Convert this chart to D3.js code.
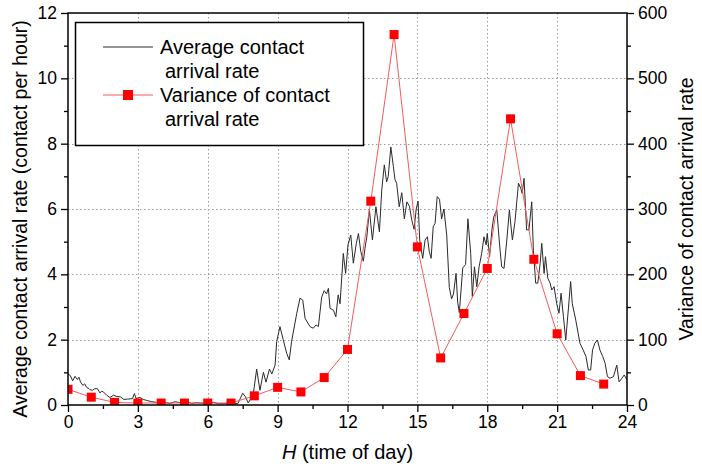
<!DOCTYPE html>
<html>
<head>
<meta charset="utf-8">
<script src="https://cdn.jsdelivr.net/npm/d3@7/dist/d3.min.js"></script>
<style>
  html, body { margin: 0; padding: 0; background: #fff; }
  svg { display: block; font-family: "Liberation Sans", Arial, sans-serif; }
</style>
</head>
<body>
<svg id="chart" width="702" height="468"></svg>
<script>
// Average contact arrival rate through the day (hour of day, contacts per hour)
const avgHours = [
  0.0, 0.1, 0.2, 0.3, 0.4, 0.47, 0.54, 0.64, 0.72, 0.8, 0.9, 0.94, 1.05, 1.15, 1.26, 1.37, 1.45, 1.52, 1.66, 1.8,
  1.95, 2.1, 2.25, 2.4, 2.55, 2.7, 2.77, 2.85, 2.92, 3.09, 3.23, 3.38, 3.6, 3.8, 3.95, 4.1, 4.25, 4.38, 4.6, 4.75,
  4.88, 5.1, 5.3, 5.5, 5.67, 5.9, 6.1, 6.25, 6.45, 6.7, 6.9, 7.1, 7.3, 7.5, 7.62, 7.74, 7.85, 7.96, 8.1, 8.24,
  8.39, 8.5, 8.65, 8.75, 8.89, 8.96, 9.1, 9.24, 9.39, 9.5, 9.6, 9.82, 9.96, 10.08, 10.18, 10.39, 10.53, 10.65, 10.75, 10.89,
  11.0, 11.1, 11.18, 11.25, 11.4, 11.5, 11.6, 11.68, 11.82, 11.92, 12.02, 12.14, 12.25, 12.38, 12.47, 12.57, 12.68, 12.75, 12.83, 12.94,
  13.07, 13.22, 13.37, 13.47, 13.58, 13.68, 13.75, 13.86, 13.97, 14.04, 14.11, 14.22, 14.33, 14.44, 14.55, 14.66, 14.76, 14.86, 14.95, 15.03,
  15.1, 15.23, 15.33, 15.43, 15.51, 15.59, 15.68, 15.76, 15.85, 15.95, 16.04, 16.14, 16.26, 16.37, 16.47, 16.55, 16.66, 16.73, 16.8, 16.95,
  17.07, 17.17, 17.29, 17.36, 17.45, 17.55, 17.65, 17.76, 17.86, 17.95, 18.0, 18.1, 18.2, 18.28, 18.41, 18.53, 18.62, 18.72, 18.84, 18.95,
  19.08, 19.19, 19.34, 19.44, 19.5, 19.58, 19.69, 19.79, 19.91, 19.98, 20.08, 20.17, 20.27, 20.34, 20.44, 20.5, 20.6, 20.7, 20.77, 20.87,
  20.98, 21.08, 21.17, 21.27, 21.37, 21.49, 21.58, 21.65, 21.8, 21.98, 22.12, 22.24, 22.34, 22.44, 22.52, 22.62, 22.73, 22.84, 22.96, 23.06,
  23.16, 23.27, 23.42, 23.56, 23.66, 23.78, 23.88, 24.0
];
const avgRate = [
  0.95, 0.9, 0.74, 0.88, 0.78, 0.85, 0.7, 0.6, 0.65, 0.54, 0.5, 0.47, 0.45, 0.5, 0.5, 0.37, 0.42, 0.4, 0.3, 0.23,
  0.3, 0.26, 0.25, 0.17, 0.18, 0.19, 0.2, 0.35, 0.2, 0.23, 0.17, 0.14, 0.1, 0.08, 0.07, 0.1, 0.06, 0.05, 0.1, 0.08,
  0.06, 0.1, 0.05, 0.07, 0.06, 0.05, 0.07, 0.08, 0.04, 0.04, 0.07, 0.04, 0.05, 0.36, 0.25, 0.06, 0.2, 0.36, 1.1, 0.45,
  1.0, 0.7, 1.1, 0.95, 1.22, 1.94, 2.4, 2.0, 1.58, 1.38, 1.95, 2.8, 3.27, 3.21, 2.65, 2.4, 2.35, 2.45, 2.4, 3.3,
  3.5, 3.4, 3.57, 2.96, 2.9, 2.7, 3.37, 3.1, 4.64, 4.03, 4.9, 5.2, 4.34, 4.95, 5.25, 4.7, 4.4, 4.8, 5.15, 5.97,
  5.05, 6.07, 5.3, 6.58, 7.35, 6.83, 7.0, 7.9, 7.3, 6.9, 6.79, 6.07, 6.5, 5.7, 6.22, 6.08, 5.66, 5.38, 6.0, 6.24,
  5.05, 4.49, 5.05, 5.15, 4.7, 4.49, 5.46, 5.56, 6.38, 6.3, 5.7, 6.0, 5.2, 3.6, 3.25, 3.4, 4.03, 3.15, 2.83, 4.2,
  4.3, 5.7, 4.64, 3.32, 4.23, 3.62, 4.23, 4.64, 5.15, 4.9, 5.25, 4.54, 5.36, 5.76, 5.97, 4.9, 4.23, 4.18, 5.05, 5.97,
  5.05, 5.61, 6.79, 6.63, 6.48, 6.94, 5.36, 5.36, 6.22, 4.74, 3.73, 3.73, 4.33, 4.95, 4.03, 4.54, 3.88, 3.73, 3.52, 3.62,
  3.11, 2.81, 3.42, 2.71, 1.99, 3.0, 3.78, 3.11, 2.6, 1.89, 1.68, 1.48, 1.07, 1.07, 1.68, 1.89, 1.99, 1.68, 1.48, 1.28,
  0.87, 0.82, 0.87, 1.22, 0.71, 0.82, 0.92, 0.77
];

// Hourly variance of the contact arrival rate
const varHours = [0, 1, 2, 3, 4, 5, 6, 7, 8, 9, 10, 11, 12, 13, 14, 15, 16, 17, 18, 19, 20, 21, 22, 23];
const varValues = [24, 12, 4, 3, 3, 3, 3, 3, 14, 27, 20, 42, 85, 312, 567, 242, 72, 140, 209, 438, 223, 109, 45, 32];

// Tick values
const xTicks = [0, 3, 6, 9, 12, 15, 18, 21, 24];
const xMinorTicks = [1.5, 4.5, 7.5, 10.5, 13.5, 16.5, 19.5, 22.5];
const yLeftTicks = [0, 2, 4, 6, 8, 10, 12];
const yLeftMinorTicks = [1, 3, 5, 7, 9, 11];
const yRightTicks = [0, 100, 200, 300, 400, 500, 600];
const yRightMinorTicks = [50, 150, 250, 350, 450, 550];

const legendLabels = [["Average contact", "arrival rate"], ["Variance of contact", "arrival rate"]];

const svg = d3.select("#chart");
const plot = { left: 68, right: 627, top: 13, bottom: 405 };

const x = d3.scaleLinear().domain([0, 24]).range([plot.left, plot.right]);
const yL = d3.scaleLinear().domain([0, 12]).range([plot.bottom, plot.top]);
const yR = d3.scaleLinear().domain([0, 600]).range([plot.bottom, plot.top]);

svg.append("defs").append("clipPath").attr("id", "plotClip")
  .append("rect")
  .attr("x", plot.left).attr("y", plot.top)
  .attr("width", plot.right - plot.left).attr("height", plot.bottom - plot.top);

// dotted grid
const grid = svg.append("g").attr("class", "grid")
  .attr("stroke", "#9a9a9a").attr("stroke-width", 1).attr("stroke-dasharray", "1.5,2.5");
grid.selectAll("line.v").data(xTicks.slice(1, -1)).join("line")
  .attr("x1", d => Math.round(x(d)) + 0.5).attr("x2", d => Math.round(x(d)) + 0.5)
  .attr("y1", plot.top).attr("y2", plot.bottom);
grid.selectAll("line.h").data(yLeftTicks.slice(1, -1)).join("line")
  .attr("y1", d => Math.round(yL(d)) + 0.5).attr("y2", d => Math.round(yL(d)) + 0.5)
  .attr("x1", plot.left).attr("x2", plot.right);

const data = svg.append("g").attr("clip-path", "url(#plotClip)");

// average rate line
const avgPoints = avgHours.map((h, i) => [h, avgRate[i]]);
data.append("path")
  .datum(avgPoints)
  .attr("fill", "none")
  .attr("stroke", "#2a2a2a")
  .attr("stroke-width", 1)
  .attr("stroke-linejoin", "round")
  .attr("d", d3.line().x(d => x(d[0])).y(d => yL(d[1])));

// variance line and markers
const varPoints = varHours.map((h, i) => [h, varValues[i]]);
data.append("path")
  .datum(varPoints)
  .attr("fill", "none")
  .attr("stroke", "#f25c5c")
  .attr("stroke-width", 1)
  .attr("d", d3.line().x(d => x(d[0])).y(d => yR(d[1])));

const sq = 9;
data.selectAll("rect.var").data(varPoints).join("rect")
  .attr("class", "var")
  .attr("x", d => x(d[0]) - sq / 2)
  .attr("y", d => yR(d[1]) - sq / 2)
  .attr("width", sq).attr("height", sq)
  .attr("fill", "#ff0000");

// axes
function styleAxis(g, fontSize) {
  g.select(".domain").remove();
  g.selectAll(".tick line").attr("stroke", "#000").attr("stroke-width", 1.3);
  g.selectAll(".tick text").attr("fill", "#000").attr("font-size", fontSize)
    .attr("font-family", "Liberation Sans, Arial, sans-serif");
}
const tickFont = 17.5;

svg.append("g").attr("transform", `translate(0,${plot.bottom})`)
  .call(d3.axisBottom(x).tickValues(xTicks).tickSize(7).tickPadding(4).tickFormat(d3.format("d")))
  .call(g => styleAxis(g, tickFont));
svg.append("g").attr("transform", `translate(0,${plot.bottom})`)
  .call(d3.axisBottom(x).tickValues(xMinorTicks).tickSize(4).tickFormat(""))
  .call(g => styleAxis(g, tickFont));

svg.append("g").attr("transform", `translate(${plot.left},0)`)
  .call(d3.axisLeft(yL).tickValues(yLeftTicks).tickSize(7).tickPadding(4).tickFormat(d3.format("d")))
  .call(g => styleAxis(g, tickFont));
svg.append("g").attr("transform", `translate(${plot.left},0)`)
  .call(d3.axisLeft(yL).tickValues(yLeftMinorTicks).tickSize(4).tickFormat(""))
  .call(g => styleAxis(g, tickFont));

svg.append("g").attr("transform", `translate(${plot.right},0)`)
  .call(d3.axisRight(yR).tickValues(yRightTicks).tickSize(7).tickPadding(4).tickFormat(d3.format("d")))
  .call(g => styleAxis(g, tickFont));
svg.append("g").attr("transform", `translate(${plot.right},0)`)
  .call(d3.axisRight(yR).tickValues(yRightMinorTicks).tickSize(4).tickFormat(""))
  .call(g => styleAxis(g, tickFont));

// frame
svg.append("rect")
  .attr("x", plot.left).attr("y", plot.top)
  .attr("width", plot.right - plot.left).attr("height", plot.bottom - plot.top)
  .attr("fill", "none").attr("stroke", "#000").attr("stroke-width", 1.5);

// axis titles
const xTitle = svg.append("text")
  .attr("x", (plot.left + plot.right) / 2).attr("y", 459)
  .attr("text-anchor", "middle").attr("font-size", 20).attr("fill", "#000");
xTitle.append("tspan").attr("font-style", "italic").text("H");
xTitle.append("tspan").text(" (time of day)");

svg.append("text")
  .attr("transform", `translate(27,${(plot.top + plot.bottom) / 2 + 10}) rotate(-90)`)
  .attr("text-anchor", "middle").attr("font-size", 19.5).attr("fill", "#000")
  .text("Average contact arrival rate (contact per hour)");

svg.append("text")
  .attr("transform", `translate(693,${(plot.top + plot.bottom) / 2}) rotate(-90)`)
  .attr("text-anchor", "middle").attr("font-size", 19.5).attr("fill", "#000")
  .text("Variance of contact arrival rate");

// legend
const legend = svg.append("g");
legend.append("rect")
  .attr("x", 75.5).attr("y", 22.5).attr("width", 288).attr("height", 123)
  .attr("fill", "#fff").attr("stroke", "#000").attr("stroke-width", 1.5);
legend.append("line")
  .attr("x1", 103).attr("x2", 153).attr("y1", 47).attr("y2", 47)
  .attr("stroke", "#2a2a2a").attr("stroke-width", 1);
legend.append("line")
  .attr("x1", 103).attr("x2", 153).attr("y1", 95).attr("y2", 95)
  .attr("stroke", "#f25c5c").attr("stroke-width", 1);
legend.append("rect")
  .attr("x", 128 - 5).attr("y", 95 - 5).attr("width", 10).attr("height", 10)
  .attr("fill", "#ff0000");
legendLabels.forEach((lines, i) => {
  const y0 = 54 + i * 48;
  legend.append("text").attr("x", 160).attr("y", y0)
    .attr("font-size", 20).attr("fill", "#000").text(lines[0]);
  legend.append("text").attr("x", 165).attr("y", y0 + 24)
    .attr("font-size", 20).attr("fill", "#000").text(lines[1]);
});
</script>
</body>
</html>
